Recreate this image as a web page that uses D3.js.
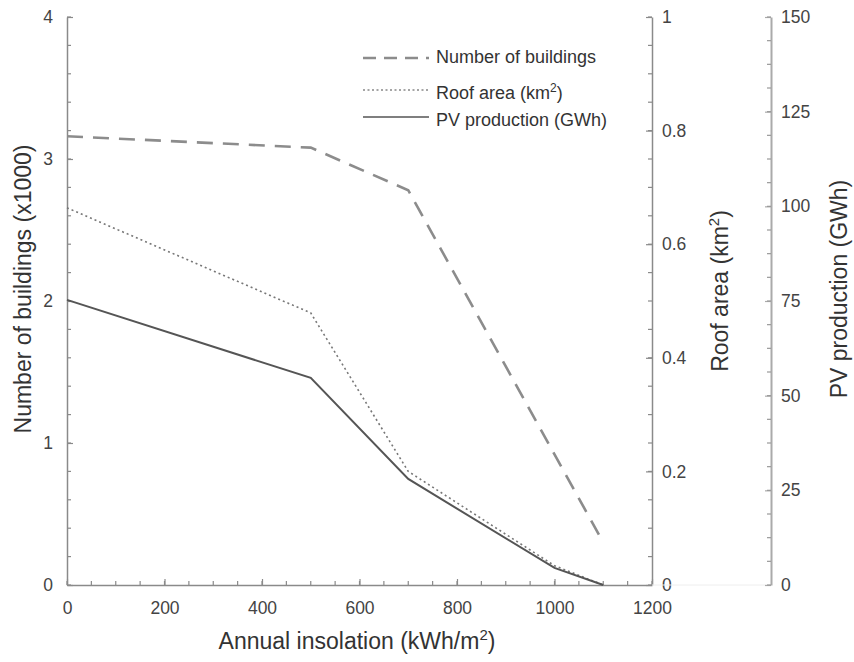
<!DOCTYPE html>
<html><head><meta charset="utf-8">
<script src="https://cdn.jsdelivr.net/npm/d3@7/dist/d3.min.js"></script>
<style>
body{margin:0;background:#fff;}
text{font-family:"Liberation Sans",Arial,sans-serif;}
</style></head>
<body><svg id="c" width="854" height="662"></svg>
<script>
const insolation = [0, 500, 700, 1000, 1100];
const buildings = [3.16, 3.08, 2.78, 0.92, 0.3];      // x1000
const roofArea = [0.664, 0.479, 0.2, 0.034, 0];      // km2
const pvProduction = [75.3, 54.7, 28, 4.5, 0];       // GWh
const xTicks = [0, 200, 400, 600, 800, 1000, 1200];
const leftTicks = [0, 1, 2, 3, 4];
const roofTicks = [0, 0.2, 0.4, 0.6, 0.8, 1];
const pvTicks = [0, 25, 50, 75, 100, 125, 150];
const legendLabels = ["Number of buildings", "Roof area (km", "PV production (GWh)"];

const svg = d3.select("#c");
const x = d3.scaleLinear().domain([0, 1200]).range([67, 652]);
const yL = d3.scaleLinear().domain([0, 4]).range([585, 17]);
const yR = d3.scaleLinear().domain([0, 1]).range([585, 17]);
const yP = d3.scaleLinear().domain([0, 150]).range([585, 17]);
const axisCol = "#8a8a8a", textCol = "#444";
const fmt = d3.format("~g");
const tickFont = 17.5, titleFont = 23, legFont = 18;

function styleAxis(g, col, w) {
  g.select(".domain").attr("stroke", col).attr("stroke-width", w);
  g.selectAll(".tick line").attr("stroke", col).attr("stroke-width", 1.2);
  g.selectAll(".tick text").attr("fill", textCol).attr("font-size", tickFont);
}

function minor(g, scale, vals, orient, len, col) {
  vals.forEach(v => {
    const p = scale(v);
    if (orient === "bottom") g.append("line").attr("x1", p).attr("x2", p).attr("y1", 585).attr("y2", 585 - len);
    else g.append("line").attr("x1", 0).attr("x2", orient === "left" ? len : -len).attr("y1", p).attr("y2", p);
  });
  g.selectAll("line").attr("stroke", col || axisCol).attr("stroke-width", 1.2);
}

// Bottom axis
const gx = svg.append("g").attr("transform", "translate(0,585)")
  .call(d3.axisBottom(x).tickValues(xTicks).tickFormat(d3.format("d")).tickSizeInner(-6).tickSizeOuter(0).tickPadding(17));
styleAxis(gx, axisCol, 1.5);
minor(svg.append("g"), x, x.ticks(24), "bottom", 4);

// Left axis
const gl = svg.append("g").attr("transform", "translate(67,0)")
  .call(d3.axisLeft(yL).tickValues(leftTicks).tickFormat(fmt).tickSizeInner(-6).tickSizeOuter(0).tickPadding(14));
styleAxis(gl, axisCol, 1.5);
minor(svg.append("g").attr("transform", "translate(67,0)"), yL, yL.ticks(20), "left", 4);

// Roof axis
const gr = svg.append("g").attr("transform", "translate(652,0)")
  .call(d3.axisRight(yR).tickValues(roofTicks).tickFormat(fmt).tickSizeInner(-6).tickSizeOuter(0).tickPadding(10));
styleAxis(gr, axisCol, 1.5);
minor(svg.append("g").attr("transform", "translate(652,0)"), yR, yR.ticks(20), "right", 4);

// faint baseline between right axes
svg.append("line").attr("x1", 652).attr("x2", 771).attr("y1", 585).attr("y2", 585)
  .attr("stroke", "#eee").attr("stroke-width", 1);

// PV axis
const gp = svg.append("g").attr("transform", "translate(771,0)")
  .call(d3.axisRight(yP).tickValues(pvTicks).tickFormat(fmt).tickSizeInner(-6).tickSizeOuter(0).tickPadding(10));
styleAxis(gp, "#aaa", 2);
minor(svg.append("g").attr("transform", "translate(771,0)"), yP, d3.range(0, 150.01, 6.25), "right", 4, "#999");

// Lines
const lineL = d3.line().x((d, i) => x(insolation[i])).y(d => yL(d));
const lineR = d3.line().x((d, i) => x(insolation[i])).y(d => yR(d));
const lineP = d3.line().x((d, i) => x(insolation[i])).y(d => yP(d));

svg.append("path").datum(buildings).attr("d", lineL).attr("fill", "none")
  .attr("stroke", "#8c8c8c").attr("stroke-width", 2.6).attr("stroke-dasharray", "16,10");
svg.append("path").datum(roofArea).attr("d", lineR).attr("fill", "none")
  .attr("stroke", "#777").attr("stroke-width", 1.6).attr("stroke-dasharray", "2,3");
svg.append("path").datum(pvProduction).attr("d", lineP).attr("fill", "none")
  .attr("stroke", "#555").attr("stroke-width", 2);

// Legend
const leg = svg.append("g");
const legY = [58, 90, 117];
const legStyles = [
  {stroke: "#8c8c8c", w: 2.6, dash: "13,8"},
  {stroke: "#888", w: 1.4, dash: "2,2.5"},
  {stroke: "#555", w: 1.6, dash: null}
];
legendLabels.forEach((lab, i) => {
  const s = legStyles[i];
  const ln = leg.append("line").attr("x1", 363).attr("x2", 429).attr("y1", legY[i]).attr("y2", legY[i])
    .attr("stroke", s.stroke).attr("stroke-width", s.w);
  if (s.dash) ln.attr("stroke-dasharray", s.dash);
  const t = leg.append("text").attr("x", 436).attr("y", legY[i] + (i === 0 ? 5 : 9))
    .attr("font-size", legFont).attr("fill", "#333").text(lab);
  if (i === 1) {
    t.append("tspan").attr("dy", -7).attr("font-size", 12).text("2");
    t.append("tspan").attr("dy", 7).text(")");
  }
});

// Axis titles
svg.append("text").attr("x", 357).attr("y", 649).attr("text-anchor", "middle")
  .attr("font-size", titleFont).attr("fill", "#333")
  .call(t => { t.append("tspan").text("Annual insolation (kWh/m");
               t.append("tspan").attr("dy", -9).attr("font-size", 15).text("2");
               t.append("tspan").attr("dy", 9).text(")"); });
svg.append("text").attr("transform", "translate(31,289) rotate(-90)").attr("text-anchor", "middle")
  .attr("font-size", titleFont).attr("fill", "#333").text("Number of buildings (x1000)");
svg.append("text").attr("transform", "translate(728,291) rotate(-90)").attr("text-anchor", "middle")
  .attr("font-size", titleFont).attr("fill", "#333")
  .call(t => { t.append("tspan").text("Roof area (km");
               t.append("tspan").attr("dy", -9).attr("font-size", 15).text("2");
               t.append("tspan").attr("dy", 9).text(")"); });
svg.append("text").attr("transform", "translate(847,289) rotate(-90)").attr("text-anchor", "middle")
  .attr("font-size", titleFont).attr("fill", "#333").text("PV production (GWh)");
</script></body></html>
